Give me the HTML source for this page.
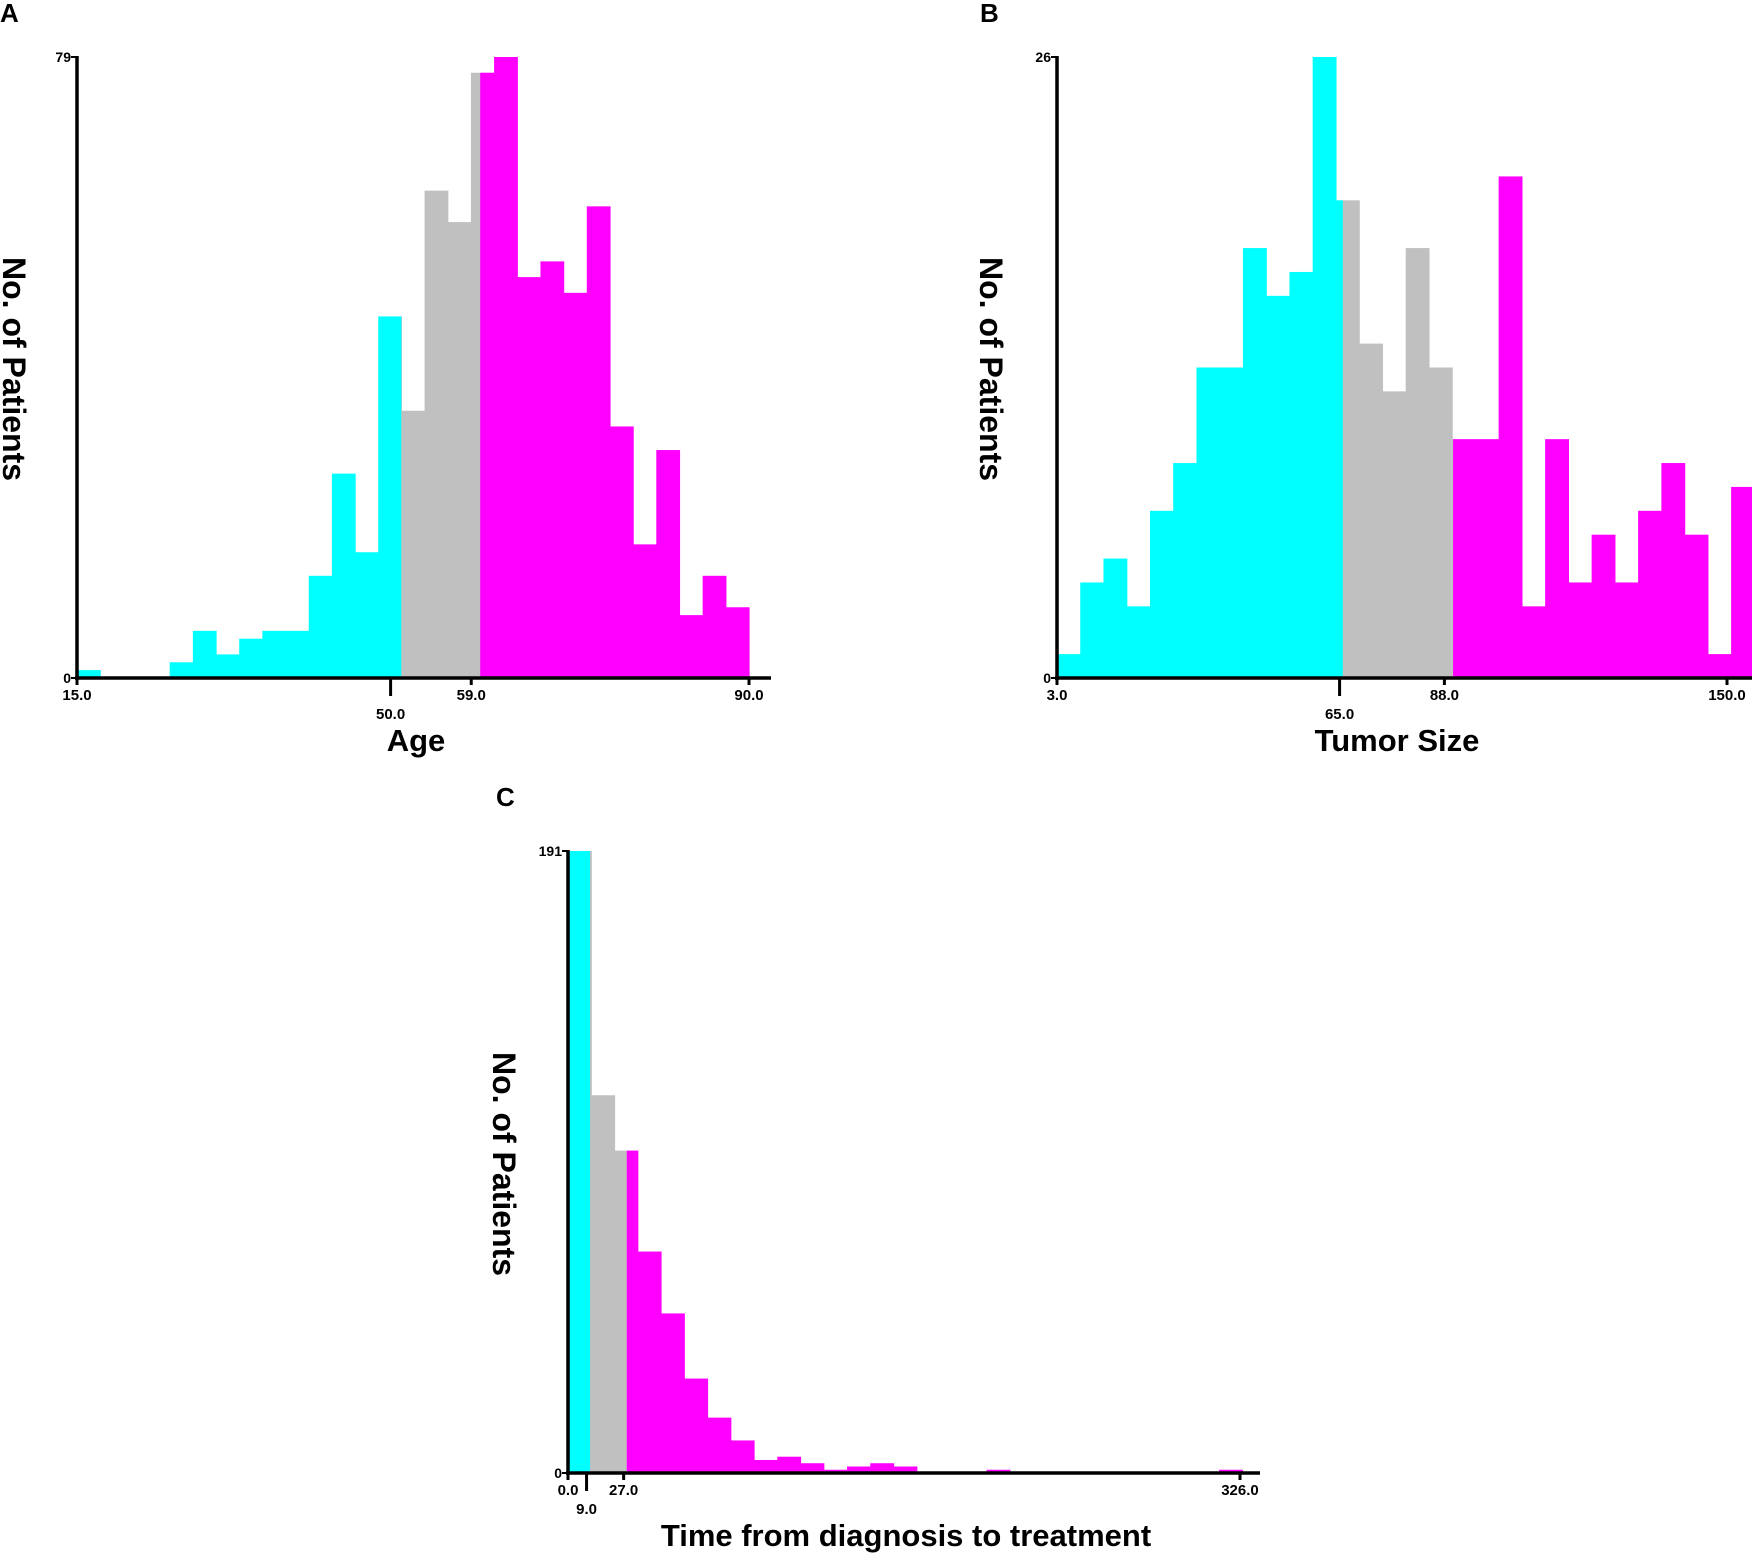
<!DOCTYPE html>
<html><head><meta charset="utf-8"><style>
html,body{margin:0;padding:0;background:#fff}
svg{display:block}
text{font-family:"Liberation Sans",Arial,sans-serif;font-weight:bold;fill:#000}
</style></head><body>
<svg id="fig" width="1752" height="1555" viewBox="0 0 1752 1555" xmlns="http://www.w3.org/2000/svg">
<rect width="1752" height="1555" fill="#fff"/>
</svg>
<script>
// Panel A: Age
const ageCounts=[1,0,0,0,2,6,3,5,6,6,13,26,16,46,34,62,58,77,79,51,53,49,60,32,17,29,8,13,9];
const ageTicks=[15,50,59,90];
const ageTickLabels=["15.0","50.0","59.0","90.0"];
const ageBreaks=[51.2,60.0];
// Panel B: Tumor size
const sizeCounts=[1,4,5,3,7,9,13,13,18,16,17,26,20,14,12,18,13,10,10,21,3,10,4,6,4,7,9,6,1,8];
const sizeTicks=[3,65,88,150];
const sizeTickLabels=["3.0","65.0","88.0","150.0"];
const sizeBreaks=[65.7,89.9];
// Panel C: Time from diagnosis to treatment
const timeCounts=[191,116,99,68,49,29,17,10,4,5,3,1,2,3,2,0,0,0,1,0,0,0,0,0,0,0,0,0,1];
const timeTicks=[0,9,27,326];
const timeTickLabels=["0.0","9.0","27.0","326.0"];
const timeBreaks=[10.7,28.5];

const NS="http://www.w3.org/2000/svg";
const svg=document.getElementById('fig');
const COLORS=["#00ffff","#c0c0c0","#ff00ff"];
function el(tag,attrs,parent){const e=document.createElementNS(NS,tag);for(const k in attrs)e.setAttribute(k,attrs[k]);(parent||svg).appendChild(e);return e;}

function panel(cfg){
  const g=el('g',{});
  
  
  const sx=v=>cfg.px0+(v-cfg.d0)/(cfg.d1-cfg.d0)*(cfg.px1-cfg.px0);
  const sy=v=>cfg.y0-v/cfg.ymax*(cfg.y0-cfg.yTop);
  const clip=cfg.clipRight||2000;
  cfg.counts.forEach((c,i)=>{
    if(c<=0)return;
    const a=cfg.start+i*cfg.bw,b=a+cfg.bw;
    const edges=[a,b];
    cfg.breaks.forEach(br=>{if(br>a&&br<b)edges.splice(edges.length-1,0,br);});
    for(let k=0;k<edges.length-1;k++){
      const m=(edges[k]+edges[k+1])/2;
      const ci=m<cfg.breaks[0]?0:(m<cfg.breaks[1]?1:2);
      const x1=sx(edges[k]),x2=Math.min(sx(edges[k+1]),clip);
      if(x2<=x1)continue;
      const r=el('rect',{x:x1,y:sy(c),width:x2-x1+0.6,height:cfg.y0-sy(c),fill:COLORS[ci]},g);
      
      
    }
  });
  const ya=el('line',{x1:cfg.px0,y1:cfg.yTop-1,x2:cfg.px0,y2:cfg.y0+2,stroke:'#000','stroke-width':3.5},g);
  
  
  const xa=el('line',{x1:cfg.px0-2,y1:cfg.y0,x2:cfg.axisEnd,y2:cfg.y0,stroke:'#000','stroke-width':3.5},g);
  
  
  [[0,'0'],[cfg.ymax,String(cfg.ymax)]].forEach(([v,l])=>{
    el('line',{x1:cfg.px0-6,y1:sy(v),x2:cfg.px0,y2:sy(v),stroke:'#000','stroke-width':2},g);
    const t=el('text',{x:cfg.px0-6,y:sy(v)+5,'text-anchor':'end','font-size':14},g);
    t.textContent=l;
    
    
  });
  cfg.ticks.forEach((v,i)=>{
    const low=cfg.lowTicks.includes(i);
    el('line',{x1:sx(v),y1:cfg.y0,x2:sx(v),y2:cfg.y0+(low?18:7),stroke:'#000','stroke-width':3},g);
    const t=el('text',{x:sx(v),y:cfg.y0+(low?41:22),'text-anchor':'middle','font-size':15},g);
    t.textContent=cfg.labels[i];
    
    
  });
  const xt=el('text',{x:cfg.xtX,y:cfg.xtY,'text-anchor':'middle','font-size':31},g);
  xt.textContent=cfg.xTitle;
  
  
  const yt=el('text',{x:0,y:0,'text-anchor':'middle','font-size':32,transform:`translate(${cfg.ytX},${cfg.ytY}) rotate(90)`},g);
  yt.textContent='No. of Patients';
  
  
  const pl=el('text',{x:cfg.lx,y:cfg.ly,'font-size':26},g);
  pl.textContent=cfg.letter;
  
  
}

panel({name:'panel-a-age',counts:ageCounts,start:15,bw:75/29,breaks:ageBreaks,ticks:ageTicks,labels:ageTickLabels,lowTicks:[1],
  d0:15,d1:90,px0:77,px1:749,y0:678,yTop:57,ymax:79,axisEnd:771,xTitle:'Age',xtX:416,xtY:751,ytX:3,ytY:369,letter:'A',lx:0,ly:22});
panel({name:'panel-b-tumor-size',counts:sizeCounts,start:3,bw:5.1,breaks:sizeBreaks,ticks:sizeTicks,labels:sizeTickLabels,lowTicks:[1],
  d0:3,d1:150,px0:1057,px1:1727,y0:678,yTop:57,ymax:26,axisEnd:1752,clipRight:1752,xTitle:'Tumor Size',xtX:1397,xtY:751,ytX:980,ytY:369,letter:'B',lx:980,ly:22});
panel({name:'panel-c-time-to-treatment',counts:timeCounts,start:0,bw:11.28,breaks:timeBreaks,ticks:timeTicks,labels:timeTickLabels,lowTicks:[1],
  d0:0,d1:326,px0:568,px1:1240,y0:1473,yTop:851,ymax:191,axisEnd:1260,xTitle:'Time from diagnosis to treatment',xtX:906,xtY:1546,ytX:493,ytY:1164,letter:'C',lx:496,ly:806});
</script>
</body></html>
